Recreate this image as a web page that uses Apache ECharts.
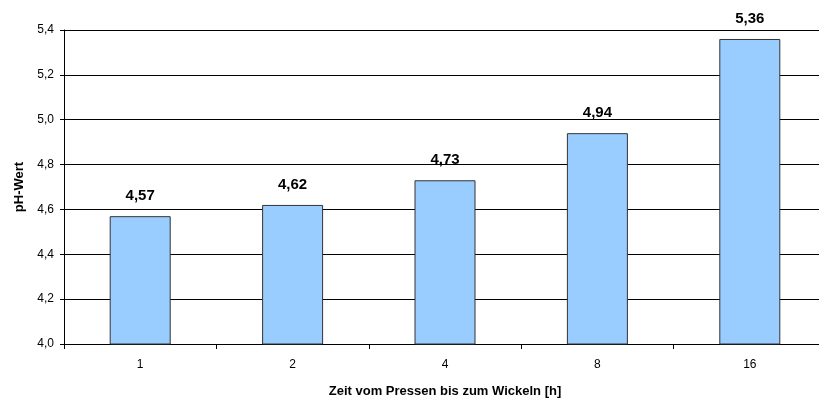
<!DOCTYPE html>
<html>
<head>
<meta charset="utf-8">
<script src="https://cdn.jsdelivr.net/npm/echarts@6/dist/echarts.min.js"></script>
<style>
  html, body { margin: 0; padding: 0; background: #fff; }
  #main { width: 819px; height: 401px; }
</style>
</head>
<body>
<div id="main"></div>
<script type="text/javascript">
// Stunden vom Pressen bis zum Wickeln
var categories = ['1', '2', '4', '8', '16'];
// pH-Werte
var phValues = [4.57, 4.62, 4.73, 4.94, 5.36];

var chart = echarts.init(document.getElementById('main'));

function komma(v, digits) {
	return v.toFixed(digits).replace('.', ',');
}

var option = {
	animation: false,
	textStyle: { fontFamily: 'Liberation Sans, Arial, sans-serif' },
	grid: {
		left: 64,
		width: 762,
		top: 30,
		bottom: 57,
		outerBoundsMode: 'none'
	},
	xAxis: {
		type: 'category',
		data: categories,
		name: 'Zeit vom Pressen bis zum Wickeln [h]',
		nameLocation: 'middle',
		nameGap: 41,
		nameTextStyle: { fontWeight: 'bold', fontSize: 13, color: '#000' },
		axisLine: { lineStyle: { color: '#000', width: 1 } },
		axisTick: { show: true, length: 5, lineStyle: { color: '#000' } },
		axisLabel: { color: '#000', fontSize: 12, margin: 15 }
	},
	yAxis: {
		type: 'value',
		min: 4.0,
		max: 5.4,
		interval: 0.2,
		name: 'pH-Wert',
		nameLocation: 'middle',
		nameGap: 35,
		nameRotate: 90,
		nameTextStyle: { fontWeight: 'bold', fontSize: 13, color: '#000' },
		axisLine: { show: true, lineStyle: { color: '#000', width: 1 } },
		axisTick: { show: true, length: 4, lineStyle: { color: '#000' } },
		axisLabel: {
			color: '#000',
			fontSize: 12,
			margin: 10,
			formatter: function (v) { return komma(v, 1); }
		},
		splitLine: { show: true, lineStyle: { color: '#000', width: 1 } }
	},
	series: [{
		type: 'bar',
		data: phValues,
		barWidth: 61,
		itemStyle: {
			color: '#99CCFF',
			borderColor: '#333',
			borderWidth: 1
		},
		label: {
			show: true,
			position: 'top',
			distance: 13,
			fontWeight: 'bold',
			fontSize: 15,
			color: '#000',
			formatter: function (p) { return komma(p.value, 2); }
		}
	}]
};

chart.setOption(option);
</script>
</body>
</html>
